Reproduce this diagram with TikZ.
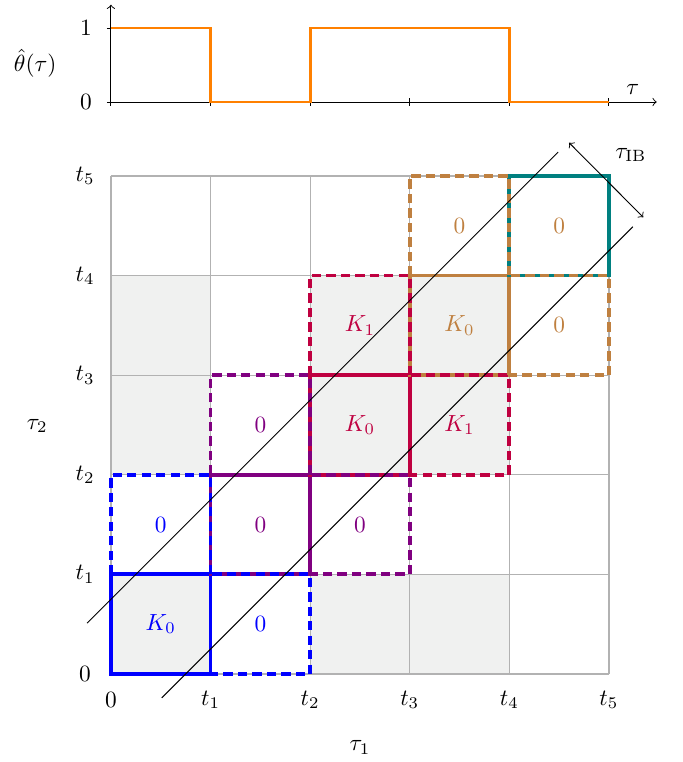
\documentclass[tikz,border=0pt]{standalone}
\usepackage{amsmath}
\definecolor{shadecol}{RGB}{240,241,240}
\begin{document}
\begin{tikzpicture}[x=1.5cm,y=1.5cm,
  gridline/.style={draw=gray!60,line width=0.5pt},
  solidbox/.style={line width=1.6pt},
  dashbox/.style={line width=1.6pt,dash pattern=on 4pt off 2.2pt},
  diag/.style={line width=0.4pt,black},
  axisline/.style={line width=0.4pt,black},
  sig/.style={orange,line width=1.2pt},
]
\useasboundingbox (-1.114,-0.884) rectangle (5.743,6.767);

% shaded cells
\foreach \i in {0,2,3}{
  \foreach \j in {0,2,3}{
    \fill[shadecol] (\i,\j) rectangle ++(1,1);
  }
}
% grid
\foreach \k in {0,...,5}{
  \draw[gridline] (\k,0) -- (\k,5);
  \draw[gridline] (0,\k) -- (5,\k);
}

% solid boxes
\draw[solidbox,blue]   (0,0) rectangle (1,1);
\draw[solidbox,violet] (1,1) rectangle (2,2);
\draw[solidbox,purple] (2,2) rectangle (3,3);
\draw[solidbox,brown]  (3,3) rectangle (4,4);
\draw[solidbox,teal]   (4,4) rectangle (5,5);

% dashed cells
\draw[dashbox,blue]   (0,1) rectangle (1,2);
\draw[dashbox,blue]   (1,0) rectangle (2,1);
\draw[dashbox,violet] (1,2) rectangle (2,3);
\draw[dashbox,violet] (2,1) rectangle (3,2);
\draw[dashbox,purple] (2,3) rectangle (3,4);
\draw[dashbox,purple] (3,2) rectangle (4,3);
\draw[dashbox,brown]  (3,4) rectangle (4,5);
\draw[dashbox,brown]  (4,3) rectangle (5,4);

% cell labels
\node[blue] (b00) at (0.5,0.5) {$K_0$};
\node[blue] (b01) at (0.5,1.5) {$0$};
\node[blue] (b10) at (1.5,0.5) {$0$};
\node[violet] (v11) at (1.5,1.5) {$0$};
\node[violet] (v12) at (1.5,2.5) {$0$};
\node[violet] (v21) at (2.5,1.5) {$0$};
\node[purple] (p22) at (2.5,2.5) {$K_0$};
\node[purple] (p23) at (2.5,3.5) {$K_1$};
\node[purple] (p32) at (3.5,2.5) {$K_1$};
\node[brown] (r33) at (3.5,3.5) {$K_0$};
\node[brown] (r34) at (3.5,4.5) {$0$};
\node[brown] (r43) at (4.5,3.5) {$0$};
\node[brown] (r44) at (4.5,4.5) {$0$};

% diagonal band
\coordinate (d1a) at (-0.24,0.51);
\coordinate (d1b) at (4.49,5.24);
\coordinate (d2a) at (0.51,-0.24);
\coordinate (d2b) at (5.24,4.49);
\draw[diag] (d1a) -- (d1b);
\draw[diag] (d2a) -- (d2b);
\coordinate (iba) at (4.60,5.334);
\coordinate (ibb) at (5.345,4.585);
\draw[diag,<->] (iba) -- (ibb);
\node (ib) at (5.22,5.21) {$\tau_{\mathrm{IB}}$};

% axis tick labels
\node (x0) at (0,-0.26) {$0$};
\node (y0) at (-0.26,0) {$0$};
\foreach \k in {1,...,5}{
  \node (x\k) at (\k,-0.26) {$t_{\k}$};
  \node (y\k) at (-0.26,\k) {$t_{\k}$};
}
\node (tau1) at (2.5,-0.74) {$\tau_1$};
\node (tau2) at (-0.74,2.49) {$\tau_2$};

% top plot
\coordinate (o) at (0,5.743);
\coordinate (xe) at (5.48,5.743);
\coordinate (ye) at (0,6.72);
\draw[axisline,->] (o) -- (xe);
\draw[axisline,->] (o) -- (ye);
\foreach \k in {0,...,5}{
  \draw[axisline] (\k,5.703) -- (\k,5.783);
}
\draw[axisline] (-0.04,5.743) -- (0.04,5.743);
\draw[axisline] (-0.04,6.486) -- (0.04,6.486);
\draw[sig] (0,6.486) -- (1,6.486) -- (1,5.743) -- (2,5.743) -- (2,6.486)
  -- (4,6.486) -- (4,5.743) -- (5,5.743);
\node (one) at (-0.25,6.486) {$1$};
\node (zero) at (-0.25,5.743) {$0$};
\node[inner sep=1pt] (theta) at (-0.76,6.134) {$\hat{\theta}(\tau)$};
\node (tau) at (5.24,5.87) {$\tau$};
\end{tikzpicture}
\end{document}
